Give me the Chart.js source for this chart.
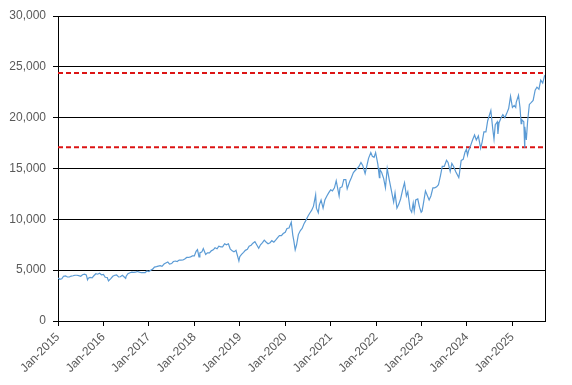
<!DOCTYPE html>
<html>
<head>
<meta charset="utf-8">
<script src="https://cdn.jsdelivr.net/npm/chart.js@4"></script>
<style>
  html, body { margin: 0; padding: 0; background: #fff; }
  #wrap { width: 572px; height: 385px; }
</style>
</head>
<body>
<div id="wrap"><canvas id="chart"></canvas></div>
<script>
// index level (roughly twice a month, extra points on sharp moves)
const dates = [
  '2015-01-01','2015-01-15','2015-02-01','2015-02-15','2015-03-01','2015-03-15','2015-04-01','2015-04-15','2015-05-01','2015-05-15','2015-06-01','2015-06-15',
  '2015-07-01','2015-07-15','2015-08-01','2015-08-15','2015-08-25','2015-09-01','2015-09-15','2015-10-01','2015-10-15','2015-11-01','2015-11-15','2015-12-01','2015-12-15',
  '2016-01-01','2016-01-15','2016-02-01','2016-02-11','2016-03-01','2016-03-15','2016-04-01','2016-04-15','2016-05-01','2016-05-15','2016-06-01','2016-06-27',
  '2016-07-01','2016-07-15','2016-08-01','2016-08-15','2016-09-01','2016-09-15','2016-10-01','2016-10-15','2016-11-01','2016-11-15','2016-12-01','2016-12-15',
  '2017-01-01','2017-01-15','2017-02-01','2017-02-15','2017-03-01','2017-03-15','2017-04-01','2017-04-15','2017-05-01','2017-05-15','2017-06-01','2017-06-15',
  '2017-07-01','2017-07-15','2017-08-01','2017-08-15','2017-09-01','2017-09-15','2017-10-01','2017-10-15','2017-11-01','2017-11-15','2017-12-01','2017-12-15',
  '2018-01-01','2018-01-15','2018-01-26','2018-02-08','2018-02-15','2018-03-01','2018-03-12','2018-04-01','2018-04-15','2018-05-01','2018-05-15','2018-06-01','2018-06-15',
  '2018-07-01','2018-07-15','2018-08-01','2018-08-15','2018-09-01','2018-09-15','2018-10-01','2018-10-15','2018-11-01','2018-11-15','2018-12-01','2018-12-24',
  '2019-01-01','2019-01-15','2019-02-01','2019-02-15','2019-03-01','2019-03-15','2019-04-01','2019-04-15','2019-05-01','2019-05-15','2019-06-01','2019-06-15',
  '2019-07-01','2019-07-15','2019-08-01','2019-08-15','2019-09-01','2019-09-15','2019-10-01','2019-10-15','2019-11-01','2019-11-15','2019-12-01','2019-12-15',
  '2020-01-01','2020-01-15','2020-02-01','2020-02-19','2020-03-01','2020-03-09','2020-03-20','2020-04-01','2020-04-15','2020-05-01','2020-05-15','2020-06-01','2020-06-15',
  '2020-07-01','2020-07-15','2020-08-01','2020-08-15','2020-09-02','2020-09-08','2020-09-23','2020-10-01','2020-10-15','2020-11-01','2020-11-15','2020-12-01','2020-12-15',
  '2021-01-01','2021-01-15','2021-02-01','2021-02-15','2021-03-08','2021-03-15','2021-04-01','2021-04-15','2021-05-01','2021-05-12','2021-06-01','2021-06-15',
  '2021-07-01','2021-07-15','2021-08-01','2021-08-15','2021-09-01','2021-09-15','2021-10-04','2021-10-15','2021-11-01','2021-11-19','2021-12-01','2021-12-15','2021-12-27',
  '2022-01-01','2022-01-15','2022-01-27','2022-02-01','2022-02-15','2022-03-01','2022-03-15','2022-03-29','2022-04-15','2022-05-01','2022-05-20','2022-06-01','2022-06-16',
  '2022-07-01','2022-07-15','2022-08-01','2022-08-16','2022-09-01','2022-09-12','2022-09-30','2022-10-13','2022-10-25','2022-11-03','2022-11-15','2022-12-01','2022-12-15','2022-12-28',
  '2023-01-05','2023-01-15','2023-02-02','2023-02-15','2023-03-01','2023-03-15','2023-04-01','2023-04-15','2023-05-01','2023-05-15','2023-06-01','2023-06-15',
  '2023-07-01','2023-07-19','2023-08-01','2023-08-18','2023-09-01','2023-09-15','2023-10-01','2023-10-26','2023-11-01','2023-11-15','2023-12-01','2023-12-15','2023-12-27',
  '2024-01-05','2024-01-15','2024-02-01','2024-02-15','2024-03-01','2024-03-15','2024-04-01','2024-04-19','2024-05-01','2024-05-15','2024-06-01','2024-06-15',
  '2024-07-10','2024-07-25','2024-08-05','2024-08-15','2024-09-01','2024-09-06','2024-09-15','2024-10-01','2024-10-15','2024-11-01','2024-11-15','2024-12-01','2024-12-16',
  '2025-01-01','2025-01-15','2025-01-27','2025-02-01','2025-02-19','2025-03-01','2025-03-10','2025-03-15','2025-04-01','2025-04-08','2025-04-09','2025-04-21',
  '2025-05-01','2025-05-15','2025-06-01','2025-06-15','2025-07-01','2025-07-15','2025-08-01','2025-08-15','2025-09-01','2025-09-15','2025-09-19'
];
const values = [
  4236,4100,4150,4400,4440,4330,4330,4420,4450,4500,4500,4460,
  4400,4550,4600,4540,4050,4200,4280,4250,4450,4650,4600,4700,4550,
  4590,4300,4280,3950,4200,4400,4500,4540,4330,4350,4500,4200,
  4400,4650,4750,4800,4780,4800,4880,4800,4750,4750,4750,4920,
  4860,5000,5100,5300,5350,5400,5450,5380,5600,5700,5800,5600,
  5650,5850,5900,5850,5990,5980,6000,6100,6250,6250,6300,6400,
  6400,6850,7020,6300,6700,6800,7130,6550,6700,6700,6900,7000,7200,
  7100,7350,7300,7300,7600,7500,7600,7100,6900,6800,6950,5900,
  6330,6550,6750,6950,7050,7350,7450,7650,7800,7500,7150,7500,
  7700,7950,7750,7600,7700,7900,7750,7950,8200,8400,8400,8600,
  8730,9100,9150,9720,8450,7900,6990,7500,8500,8900,9100,9600,9900,
  10300,10600,10900,11300,12400,11100,10650,11400,11900,11100,11900,12300,12600,
  12900,12800,13100,13800,12300,13100,13200,13900,13900,13000,13700,14100,
  14600,14800,15000,15200,15600,15300,14500,15100,16000,16570,16200,16100,16570,
  16320,15400,14100,14900,14600,14000,13100,15000,13900,12900,11700,12600,11100,
  11500,12000,12900,13600,12300,12700,11000,10700,11600,10800,11900,12000,11200,10700,
  10800,11500,12800,12400,11900,12300,13100,13100,13200,13400,14300,15200,
  15200,15800,15600,14700,15500,15200,14700,14100,14500,15800,15900,16600,16900,
  16300,16800,17300,17800,18300,17800,18200,17000,17600,18600,18600,19700,
  20700,18900,17900,19300,19600,18400,19500,20000,20300,20000,20400,20900,22100,
  21000,21200,21000,21500,22200,21000,19400,19800,19600,17100,19100,17800,
  19600,21300,21500,21700,22700,23000,22800,23700,23400,24100,24200
];
// horizontal reference levels (red dashed)
const levels = [24400, 17100];
const xTickLabels = ['Jan-2015','Jan-2016','Jan-2017','Jan-2018','Jan-2019','Jan-2020','Jan-2021','Jan-2022','Jan-2023','Jan-2024','Jan-2025'];
const yTicks = [0, 5000, 10000, 15000, 20000, 25000, 30000];

// months since Jan 2015
function toMonths(d) {
  const [y, m, day] = d.split('-').map(Number);
  return (y - 2015) * 12 + (m - 1) + (day - 1) / 30;
}

const points = dates.map((d, i) => ({ x: toMonths(d), y: values[i] }));
const xMax = points[points.length - 1].x;

const levelSets = levels.map(v => ({
  data: [{ x: 0, y: v }, { x: xMax, y: v }],
  borderColor: '#dc1414',
  borderWidth: 2,
  borderDash: [5, 3],
  pointRadius: 0,
  fill: false
}));

const rightBorder = {
  id: 'rightBorder',
  afterDraw(chart) {
    const { ctx, chartArea } = chart;
    ctx.save();
    ctx.strokeStyle = '#000';
    ctx.lineWidth = 1;
    ctx.beginPath();
    ctx.moveTo(chartArea.right + 0.5, chartArea.top);
    ctx.lineTo(chartArea.right + 0.5, chartArea.bottom);
    ctx.stroke();
    ctx.restore();
  }
};

const tickFont = { family: 'Liberation Sans', size: 12 };

new Chart(document.getElementById('chart'), {
  type: 'line',
  data: {
    datasets: [
      {
        data: points,
        borderColor: '#5b9bd5',
        borderWidth: 1.2,
        pointRadius: 0,
        tension: 0,
        fill: false
      },
      ...levelSets
    ]
  },
  options: {
    responsive: true,
    maintainAspectRatio: false,
    animation: false,
    layout: { padding: { top: 16, right: 27, left: 0, bottom: 0 } },
    plugins: { legend: { display: false }, tooltip: { enabled: false } },
    scales: {
      x: {
        type: 'linear',
        min: 0,
        max: xMax,
        afterBuildTicks: s => { s.ticks = xTickLabels.map((_, i) => ({ value: i * 12 })); },
        afterFit: s => { s.height = 64; },
        grid: { drawOnChartArea: false, drawTicks: true, tickLength: 5, color: '#000' },
        border: { color: '#000', width: 1 },
        ticks: {
          color: '#595959',
          font: tickFont,
          maxRotation: 45,
          minRotation: 45,
          padding: 4,
          callback: v => xTickLabels[Math.round(v / 12)]
        }
      },
      y: {
        min: 0,
        max: 30000,
        afterBuildTicks: s => { s.ticks = yTicks.map(v => ({ value: v })); },
        afterFit: s => { s.width = 58; },
        grid: { color: '#000', lineWidth: 1, tickLength: 5 },
        border: { color: '#000', width: 1 },
        ticks: {
          color: '#595959',
          font: tickFont,
          padding: 7,
          callback: v => v.toLocaleString('en-US')
        }
      }
    }
  },
  plugins: [rightBorder]
});
</script>
</body>
</html>
